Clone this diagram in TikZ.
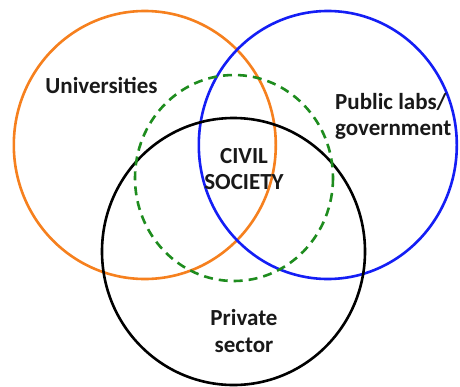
\documentclass[tikz,border=0pt]{standalone}
\usepackage{fontspec}
\setmainfont{Carlito}
\begin{document}
\begin{tikzpicture}[x=1pt,y=-1pt,
  ring/.style={line width=2.6pt},
  label/.style={font=\bfseries\fontsize{23}{26.5}\selectfont, inner sep=0pt, text=black!90}]
\definecolor{uniorange}{RGB}{246,128,30}
\definecolor{labblue}{RGB}{20,30,245}
\definecolor{civgreen}{RGB}{30,140,30}
\useasboundingbox (0,0) rectangle (460,386);
\fill[white] (0,0) rectangle (460,386);

% the four sectors
\draw[ring, uniorange] (144.8,145) ellipse [x radius=131, y radius=134];
\draw[ring, labblue]   (327.8,145) ellipse [x radius=129, y radius=134];
\draw[ring, black]     (233.5,251.5) ellipse [x radius=131.5, y radius=133.5];
\draw[ring, civgreen, dash pattern=on 9pt off 6pt] (234,178) ellipse [x radius=99, y radius=103];

% labels
\node[label, anchor=base] (uni) at (101.5,93) {Universities};
\node[label, anchor=west, align=left] (pub) at (335,116.5) {Public labs/\\government};
\node[label, align=center] (civ) at (244,169) {CIVIL\\SOCIETY};
\node[label, align=center] (priv) at (244,331) {Private\\sector};
\end{tikzpicture}
\end{document}
